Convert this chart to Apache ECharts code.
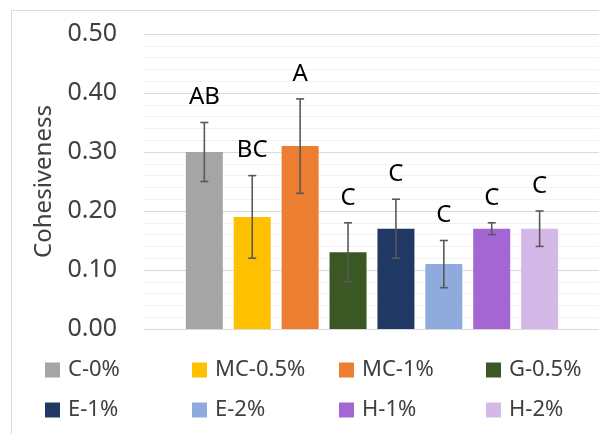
<!DOCTYPE html>
<html>
<head>
<meta charset="utf-8">
<script src="https://cdn.jsdelivr.net/npm/echarts@6/dist/echarts.min.js"></script>
<style>
  html, body { margin: 0; padding: 0; background: #fff; }
  #main { width: 599px; height: 434px; }
</style>
</head>
<body>
<div id="main"></div>
<script>
// data
var categories = ['C-0%', 'MC-0.5%', 'MC-1%', 'G-0.5%', 'E-1%', 'E-2%', 'H-1%', 'H-2%'];
var means = [0.30, 0.19, 0.31, 0.13, 0.17, 0.11, 0.17, 0.17];
var errLow = [0.25, 0.12, 0.23, 0.08, 0.12, 0.07, 0.16, 0.14];
var errHigh = [0.35, 0.26, 0.39, 0.18, 0.22, 0.15, 0.18, 0.20];
var letters = ['AB', 'BC', 'A', 'C', 'C', 'C', 'C', 'C'];
var colors = ['#a5a5a5', '#ffc000', '#ed7d31', '#3a5724', '#203864', '#8faadc', '#a366d3', '#d4b8e8'];
var yMin = 0, yMax = 0.5, yStep = 0.1;

var fontFamily = 'Noto Sans';
var chartDom = document.getElementById('main');
var myChart = echarts.init(chartDom);

// legend laid out as 4 columns of 2 rows
var legendCols = [40, 187, 334, 481];
var legends = legendCols.map(function (left, c) {
  return {
    orient: 'vertical',
    left: left,
    top: 354,
    itemGap: 18,
    itemWidth: 15,
    itemHeight: 15,
    icon: 'rect',
    selectedMode: false,
    data: [categories[c], categories[c + 4]],
    textStyle: { fontFamily: fontFamily, fontSize: 22, color: '#404040', padding: [0, 0, 0, 3] }
  };
});

var legendSeries = categories.map(function (name, i) {
  return {
    name: name,
    type: 'line',
    data: [],
    itemStyle: { color: colors[i] },
    lineStyle: { color: colors[i] }
  };
});

var option = {
  animation: false,
  graphic: [
    {
      type: 'rect',
      shape: { x: 11.5, y: 10.5, width: 620, height: 440 },
      style: { fill: 'none', stroke: '#d9d9d9', lineWidth: 1 },
      silent: true
    }
  ],
  legend: legends,
  grid: { left: 144, top: 34, right: 0, bottom: 105 },
  xAxis: {
    type: 'value',
    min: -1.26,
    max: 8.24,
    axisLine: { show: true, lineStyle: { color: '#d9d9d9' } },
    axisTick: { show: false },
    axisLabel: { show: false },
    splitLine: { show: false }
  },
  yAxis: {
    type: 'value',
    min: yMin,
    max: yMax,
    interval: yStep,
    name: 'Cohesiveness',
    nameLocation: 'middle',
    nameGap: 88,
    nameTextStyle: { fontFamily: fontFamily, fontSize: 24, color: '#404040' },
    axisLine: { show: false },
    axisTick: { show: false },
    axisLabel: {
      margin: 27,
      fontFamily: fontFamily,
      fontSize: 25,
      color: '#404040',
      formatter: function (v) { return v.toFixed(2); }
    },
    splitLine: { lineStyle: { color: '#d9d9d9' } },
    minorTick: { show: false, splitNumber: 5 },
    minorSplitLine: { show: true, lineStyle: { color: '#f2f2f2' } }
  },
  series: [
    {
      type: 'bar',
      barWidth: 37,
      data: means.map(function (v, i) {
        return { value: [i, v], itemStyle: { color: colors[i] } };
      })
    },
    {
      // error bars + significance letters
      type: 'custom',
      z: 5,
      data: errLow.map(function (lo, i) { return [i, lo, errHigh[i]]; }),
      renderItem: function (params, api) {
        var top = api.coord([api.value(0), api.value(2)]);
        var bot = api.coord([api.value(0), api.value(1)]);
        var cap = 4;
        var st = { stroke: '#595959', lineWidth: 1.6 };
        return {
          type: 'group',
          children: [
            { type: 'line', shape: { x1: top[0], y1: top[1], x2: bot[0], y2: bot[1] }, style: st },
            { type: 'line', shape: { x1: top[0] - cap, y1: top[1], x2: top[0] + cap, y2: top[1] }, style: st },
            { type: 'line', shape: { x1: bot[0] - cap, y1: bot[1], x2: bot[0] + cap, y2: bot[1] }, style: st },
            {
              type: 'text',
              x: top[0],
              y: top[1] - 13,
              style: {
                text: letters[params.dataIndex],
                align: 'center',
                verticalAlign: 'bottom',
                fontFamily: fontFamily,
                fontSize: 24,
                fill: '#000'
              }
            }
          ]
        };
      }
    }
  ].concat(legendSeries)
};

option && myChart.setOption(option);
</script>
</body>
</html>
